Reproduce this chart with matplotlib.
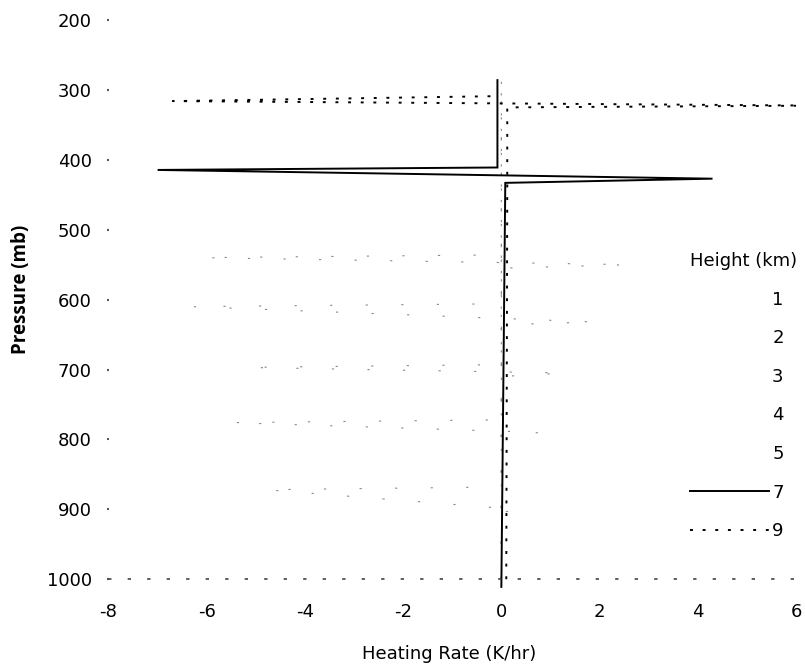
import matplotlib
matplotlib.use("Agg")
import matplotlib.pyplot as plt

# ---------------- data ----------------
heights = [1, 2, 3, 4, 5, 7, 9]          # cloud height (km)

# pressure levels (mb) and heating rates (K/hr) for each profile
p_1 = [1000, 905, 900, 872, 868, 286]
h_1 = [0.0, 0.0, 0.3, -4.8, 0.0, 0.0]

p_2 = [1000, 795, 790, 776, 772, 286]
h_2 = [0.0, 0.0, 0.8, -5.5, 0.0, 0.0]

p_3 = [1000, 710, 705, 697, 693, 286]
h_3 = [0.0, 0.0, 1.3, -5.2, 0.0, 0.0]

p_4 = [1000, 636, 632, 610, 606, 286]
h_4 = [0.0, 0.0, 1.9, -6.3, 0.0, 0.0]

p_5 = [1000, 555, 550, 540, 536, 286]
h_5 = [0.0, 0.0, 2.6, -6.1, 0.0, 0.0]

p_7 = [1011, 433, 427, 414.5, 411, 286]
h_7 = [0.0, 0.08, 4.3, -7.0, -0.08, -0.08]

p_9 = [1000, 442, 325, 322.5, 316, 309]
h_9 = [0.1, 0.12, 0.12, 6.5, -6.69, -0.15]

yticks = [200, 300, 400, 500, 600, 700, 800, 900, 1000]
ytick_labels = ["200", "300", "400", "500", "600", "700", "800", "900", "1000"]
xticks = [-8, -6, -4, -2, 0, 2, 4, 6]
xtick_labels = ["-8", "-6", "-4", "-2", "0", "2", "4", "6"]

# ---------------- figure ----------------
plt.rcParams['font.family'] = ['DejaVu Sans']

W, H = 805, 672
ax_left, ax_right = 108.5, 796.0      # px of x=-8 and x=6
ax_top, ax_bot = 20.0, 587.6          # px of 200 mb and 1012 mb
aw, ah = ax_right - ax_left, ax_bot - ax_top

fig = plt.figure(figsize=(W / 100, H / 100), dpi=100)
ax = fig.add_axes([ax_left / W, (H - ax_bot) / H, aw / W, ah / H])
ax.set_xlim(-8, 6)
ax.set_ylim(1012, 200)

faint = dict(color="#8a8a8a", lw=0.8, linestyle=(0, (2, 30)))
lines = []
for p, h in [(p_1, h_1), (p_2, h_2), (p_3, h_3), (p_4, h_4), (p_5, h_5)]:
    ln, = ax.plot(h, p, **faint)
    lines.append(ln)
ln7, = ax.plot(h_7, p_7, color="black", lw=1.4, solid_joinstyle="miter")
ln9, = ax.plot(h_9, p_9, color="black", lw=1.4, linestyle=(0, (1.5, 5)))
lines += [ln7, ln9]

# axes styling
for s in ["top", "right", "left"]:
    ax.spines[s].set_visible(False)
ax.spines["bottom"].set_position(("data", 1000))
ax.spines["bottom"].set_linestyle((0, (1, 10.7)))
ax.spines["bottom"].set_linewidth(1.2)
ax.spines["bottom"].set_color("#444444")

ax.set_yticks(yticks)
ax.set_yticklabels(ytick_labels)
ax.set_xticks(xticks)
ax.set_xticklabels(xtick_labels)
ax.tick_params(axis="y", length=1.5, width=1.5, color="#555555", pad=10.5, labelsize=13)
ax.tick_params(axis="x", length=0, pad=17, labelsize=13)

ax.set_ylabel("Pressure (mb)", family=["Open Sans", "DejaVu Sans"],
              fontweight="bold", fontsize=13.5)
ax.yaxis.set_label_coords((31 - ax_left) / aw, 0.526)
ax.set_xlabel("Heating Rate (K/hr)", fontsize=13)
ax.xaxis.set_label_coords(0.495, (ax_bot - 645) / ah)

leg = ax.legend(lines, [str(h) for h in heights], title="Height (km)",
                loc="upper left",
                bbox_to_anchor=((656.6 - ax_left) / aw, (ax_bot - 218.6) / ah),
                frameon=False, fontsize=13, title_fontsize=13,
                handlelength=4.4, handletextpad=0.15, labelspacing=1.14,
                borderpad=1.85, borderaxespad=0, alignment="left")
for hnd in leg.legend_handles[:5]:
    hnd.set_visible(False)

fig.savefig("out.png", dpi=100)
